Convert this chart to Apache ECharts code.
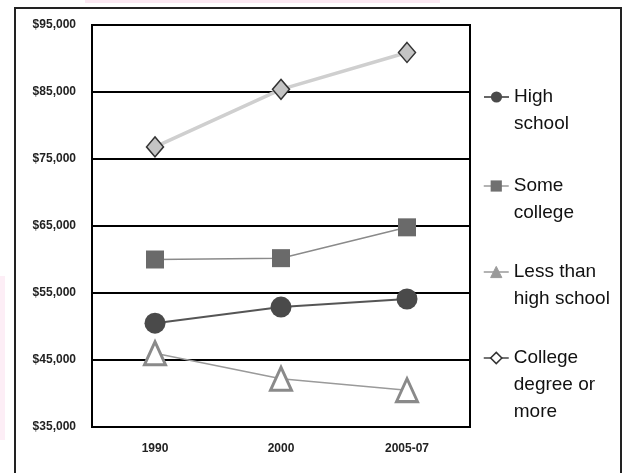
<!DOCTYPE html>
<html>
<head>
<meta charset="utf-8">
<script src="https://cdn.jsdelivr.net/npm/echarts@6/dist/echarts.min.js"></script>
<style>
  html, body { margin: 0; padding: 0; background: #fff; }
  #chart { width: 625px; height: 473px; }
</style>
</head>
<body>
<div id="chart"></div>
<script>
// Median household income by education of householder
const categories = ['1990', '2000', '2005-07'];
const seriesNames = ['High school', 'Some college', 'Less than high school', 'College degree or more'];
const legendLabels = ['High\nschool', 'Some\ncollege', 'Less than\nhigh school', 'College\ndegree or\nmore'];
const highSchool = [50500, 52900, 54100];
const someCollege = [60000, 60200, 64800];
const lessThanHighSchool = [46000, 42200, 40500];
const collegeDegree = [76800, 85400, 90900];
const yTicks = [35000, 45000, 55000, 65000, 75000, 85000, 95000];

const tickFont = "'Liberation Sans', Arial, sans-serif";
const legendFont = "'Liberation Sans', Arial, sans-serif";

const chart = echarts.init(document.getElementById('chart'), null, { renderer: 'canvas' });

// one legend block per series; blank lines above the label put its first
// line at the vertical centre, level with the icon
const legendIconY = [97, 186, 272, 358];
const legendItemStyles = [
  { color: '#4a4a4a' },
  { color: '#707070' },
  { color: '#9a9a9a', borderColor: '#9a9a9a', borderWidth: 1 },
  { color: '#ffffff', borderColor: '#333333', borderWidth: 1.5 }
];
const legendLineStyles = [
  { color: '#666', width: 2 },
  { color: '#9a9a9a', width: 1.5 },
  { color: '#9a9a9a', width: 1.5 },
  { color: '#444', width: 1.5 }
];
const lineH = 27;
const legends = seriesNames.map((name, i) => {
  const lines = legendLabels[i].split('\n');
  const n = lines.length;
  const text = new Array(n - 1).fill(' ').concat(lines).join('\n');
  const boxH = (2 * n - 1) * lineH;
  return {
    show: true,
    orient: 'vertical',
    left: 483,
    top: legendIconY[i] - boxH / 2,
    padding: 0,
    itemWidth: 25,
    itemHeight: 14,
    itemGap: 0,
    selectedMode: false,
    data: [{ name: name, itemStyle: legendItemStyles[i], lineStyle: legendLineStyles[i] }],
    formatter: () => text,
    textStyle: {
      fontFamily: legendFont,
      fontSize: 19,
      color: '#111',
      lineHeight: lineH
    }
  };
});

const option = {
  backgroundColor: '#ffffff',
  animation: false,
  graphic: [
    { type: 'rect', shape: { x: 85, y: 0, width: 355, height: 3 }, style: { fill: '#fbe8f2' }, silent: true },
    { type: 'rect', shape: { x: 0, y: 276, width: 5, height: 164 }, style: { fill: '#fdeef6' }, silent: true },
    { type: 'rect', shape: { x: 15, y: 8, width: 606, height: 475 }, style: { fill: 'none', stroke: '#222', lineWidth: 2 }, silent: true }
  ],
  legend: legends,
  grid: {
    left: 92,
    right: 155,
    top: 25,
    bottom: 46,
    show: true,
    borderColor: '#000',
    borderWidth: 2,
    containLabel: false
  },
  xAxis: {
    type: 'category',
    data: categories,
    boundaryGap: true,
    axisLine: { show: false },
    axisTick: { show: false },
    axisLabel: {
      margin: 16,
      fontFamily: tickFont,
      fontSize: 12,
      fontWeight: 'bold',
      color: '#222'
    }
  },
  yAxis: {
    type: 'value',
    min: yTicks[0],
    max: yTicks[yTicks.length - 1],
    interval: 10000,
    axisLine: { show: false },
    axisTick: { show: false },
    splitLine: { show: true, lineStyle: { color: '#000', width: 2 } },
    axisLabel: {
      margin: 16,
      fontFamily: tickFont,
      fontSize: 12,
      fontWeight: 'bold',
      color: '#222',
      formatter: v => '$' + v.toLocaleString('en-US')
    }
  },
  series: [
    {
      name: seriesNames[0],
      type: 'line',
      data: highSchool,
      z: 4,
      symbol: 'circle',
      symbolSize: 21,
      lineStyle: { color: '#555', width: 2 },
      itemStyle: { color: '#4a4a4a' }
    },
    {
      name: seriesNames[1],
      type: 'line',
      data: someCollege,
      z: 3,
      symbol: 'rect',
      symbolSize: 18,
      lineStyle: { color: '#8a8a8a', width: 1.5 },
      itemStyle: { color: '#6a6a6a' }
    },
    {
      name: seriesNames[2],
      type: 'line',
      data: lessThanHighSchool,
      z: 2,
      symbol: 'triangle',
      symbolSize: [21, 23],
      lineStyle: { color: '#9a9a9a', width: 1.5 },
      itemStyle: { color: '#ffffff', borderColor: '#8a8a8a', borderWidth: 3 }
    },
    {
      name: seriesNames[3],
      type: 'line',
      data: collegeDegree,
      z: 2,
      symbol: 'diamond',
      symbolSize: [17, 20],
      lineStyle: { color: '#cfcfcf', width: 3.5 },
      itemStyle: { color: '#c4c4c4', borderColor: '#333', borderWidth: 1.5 }
    }
  ]
};

chart.setOption(option);
</script>
</body>
</html>
